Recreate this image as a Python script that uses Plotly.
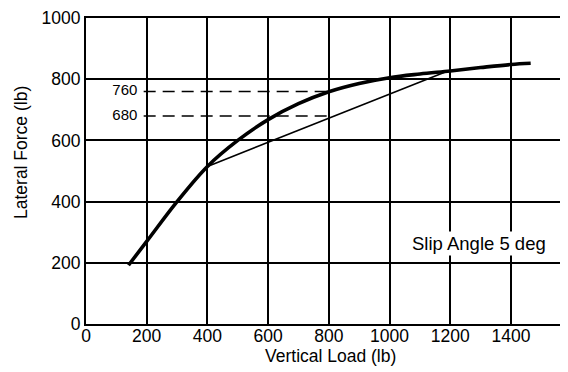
import plotly.graph_objects as go

# Heavy curve: lateral force vs vertical load (slip angle 5 deg)
load = [140, 200, 300, 400, 500, 600, 700, 800, 900, 1000, 1100, 1200, 1300, 1400, 1465]
force = [192, 270, 400, 515, 600, 668, 720, 759, 786, 805, 817, 827, 838, 848, 852]

# Thin chord line
chord_load = [400, 1190]
chord_force = [515, 826]

# Dashed reference levels
ref_values = [760, 680]
ref_start = 190
ref_end = 800
ref_label_x = 128

x_ticks = [0, 200, 400, 600, 800, 1000, 1200, 1400]
y_ticks = [0, 200, 400, 600, 800, 1000]

FONT = "Liberation Sans, Arial, sans-serif"
# page body has an 8px default margin, so the figure is offset by 8px
OFF = 8
W, H = 568 - OFF, 372 - OFF
ML, MR, MT, MB = 86 - OFF, 0, 18 - OFF, 372 - 324
PW, PH = W - ML - MR, H - MT - MB

fig = go.Figure()

for v in ref_values:
    fig.add_trace(go.Scatter(x=[ref_start, ref_end], y=[v, v], mode="lines",
                             line=dict(color="black", width=1.5, dash="12px,7px"),
                             hoverinfo="skip", showlegend=False))

fig.add_trace(go.Scatter(x=chord_load, y=chord_force, mode="lines",
                         line=dict(color="black", width=1.6),
                         showlegend=False))

fig.add_trace(go.Scatter(x=load, y=force, mode="lines",
                         line=dict(color="black", width=3.6, shape="spline", smoothing=1.0),
                         showlegend=False))

fig.add_trace(go.Scatter(x=[ref_label_x] * len(ref_values), y=ref_values, mode="text",
                         text=[str(v) for v in ref_values],
                         textfont=dict(family=FONT, size=15, color="black"),
                         textposition="middle center", showlegend=False, hoverinfo="skip"))

fig.add_annotation(x=1294, y=262, text="Slip Angle 5 deg", showarrow=False,
                   font=dict(family=FONT, size=18.5, color="black"),
                   bgcolor="white", xanchor="center", yanchor="middle")

# Axis titles placed in paper coordinates (page pixel targets minus offset)
fig.add_annotation(x=(330 - OFF - ML) / PW, y=-(356 - 324) / PH,
                   xref="paper", yref="paper", text="Vertical Load (lb)", showarrow=False,
                   font=dict(family=FONT, size=17.5, color="black"),
                   xanchor="center", yanchor="middle")
fig.add_annotation(x=-(86 - 21) / PW, y=(324 - 153) / PH,
                   xref="paper", yref="paper", text="Lateral Force (lb)", showarrow=False,
                   textangle=-90,
                   font=dict(family=FONT, size=17.5, color="black"),
                   xanchor="center", yanchor="middle")

fig.update_layout(
    width=W, height=H,
    margin=dict(l=ML, r=MR, t=MT, b=MB, autoexpand=False),
    paper_bgcolor="white", plot_bgcolor="white",
    font=dict(family=FONT, size=17.5, color="black"),
    xaxis=dict(range=[0, 1588], tickvals=x_ticks, ticktext=[str(t) for t in x_ticks],
               showgrid=True, gridcolor="black", gridwidth=2,
               showline=True, linecolor="black", linewidth=2, mirror=True,
               ticks="", ticklen=0, ticklabelstandoff=-5, zeroline=False, automargin=False,
               tickfont=dict(family=FONT, size=17.5)),
    yaxis=dict(range=[0, 1000], tickvals=y_ticks, ticktext=[str(t) for t in y_ticks],
               showgrid=True, gridcolor="black", gridwidth=2,
               showline=True, linecolor="black", linewidth=2,
               ticks="", ticklen=0, zeroline=False, automargin=False,
               tickfont=dict(family=FONT, size=17.5)),
)

fig.write_html("out.html")
